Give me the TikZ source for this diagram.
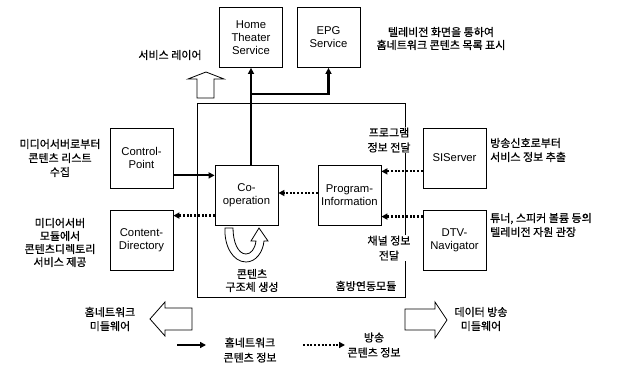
\documentclass[tikz,border=0pt]{standalone}
\usepackage{fontspec}
\setmainfont{Liberation Sans}
\newfontfamily\krfam[FakeBold=0.6]{Noto Sans CJK KR}
\usetikzlibrary{arrows.meta,calc}
\newcommand\enf{\fontsize{11.3}{13}\selectfont}
\newcommand\krf{\krfam\fontsize{11}{14}\selectfont}
\begin{document}
\begin{tikzpicture}[x=1pt,y=-1pt,
  box/.style={draw,line width=0.8pt,minimum width=63pt,minimum height=60pt,align=center,font=\enf,inner sep=1pt},
  lbl/.style={align=center,font=\krf,inner sep=1pt},
  hn/.style={line width=2.2pt,-{Triangle[length=6pt,width=6pt]}},
  bc/.style={line width=2.2pt,dash pattern=on 2pt off 1.7pt,-{Triangle[length=6pt,width=6pt]}},
  hollow/.style={draw,line width=0.8pt,fill=white,line join=miter}]
\useasboundingbox (0,0) rectangle (622,371);
% module
\node[draw,line width=0.8pt,minimum width=208pt,minimum height=194pt] (mod) at (301,200) {};
% boxes
\node[box] (HT) at (251,37.5) {Home\\Theater\\Service};
\node[box] (EPG) at (328.5,37.5) {EPG\\Service};
\node[box] (CP) at (141.5,158) {Control-\\Point};
\node[box] (CD) at (141.5,240) {Content-\\Directory};
\node[box] (CO) at (246.5,195) {Co-\\operation};
\node[box] (PI) at (349.5,195) {Program-\\Information};
\node[box] (SI) at (454.5,158) {SIServer};
\node[box] (DTV) at (454.5,240) {DTV-\\Navigator};
% connectors
\draw[hn] (HT.south |- CO.north) -- (HT.south);
\coordinate (br) at (251,94);
\draw[hn] (br) -| (EPG.south);
\draw[hn] ([yshift=13pt]CP.south east) -- ([yshift=13pt]CP.south east -| CO.west);
\draw[bc] ([yshift=-6pt]CD.north east -| CO.west) -- ([yshift=-6pt]CD.north east);
\draw[bc] ([yshift=2pt]PI.west) -- ([yshift=2pt]PI.west -| CO.east);
\draw[bc] ([yshift=17pt]SI.south west) -- ([yshift=17pt]SI.south west -| PI.east);
\draw[bc] ([yshift=-7pt]DTV.north west) -- ([yshift=-7pt]DTV.north west -| PI.east);
% hollow arrows
\path[hollow] (197,98) -- (197,79) -- (188,79) -- (206,72) -- (224,79) -- (214,79) -- (214,98) -- cycle;
\path[hollow] (192,308) -- (165,308) -- (165,302) -- (150,319) -- (165,336) -- (165,330) -- (192,330) -- cycle;
\path[hollow] (405,309) -- (435,309) -- (435,302) -- (447,320) -- (435,338) -- (435,330) -- (405,330) -- cycle;
\path[hollow] (225,228) .. controls (224,246) and (233,262) .. (246,262)
  .. controls (256,262) and (263,252) .. (264,241) -- (268,241) -- (259,228) -- (251,241) -- (256,241)
  .. controls (255,249) and (251,254) .. (246,254) .. controls (238,254) and (233,242) .. (233,228) -- cycle;
% labels
\node[lbl] (l1) at (170,55) {서비스 레이어};
\node[lbl,font=\krfam\fontsize{11}{13}\selectfont] (l2) at (441,38.5) {텔레비전 화면을 통하여\\홈네트워크 콘텐츠 목록 표시};
\node[lbl] (l3) at (60,158) {미디어서버로부터\\콘텐츠 리스트\\수집};
\node[lbl,font=\krfam\fontsize{11}{13}\selectfont] (l4) at (60,242.5) {미디어서버\\모듈에서\\콘텐츠디렉토리\\서비스 제공};
\node[lbl,fill=white,font=\krfam\fontsize{11}{15}\selectfont] (l5) at (389,140) {프로그램\\정보 전달};
\node[lbl,fill=white,font=\krfam\fontsize{11}{15}\selectfont] (l6) at (389,248) {채널 정보\\전달};
\node[lbl,anchor=west,align=left] (l7) at (489,150) {방송신호로부터\\서비스 정보 추출};
\node[lbl,anchor=west,align=left] (l8) at (489,225) {튜너, 스피커 볼륨 등의\\텔레비전 자원 관장};
\node[lbl,font=\krfam\fontsize{11}{13}\selectfont] (l9) at (252,280.5) {콘텐츠\\구조체 생성};
\node[lbl] (l10) at (366,286) {홈방연동모듈};
\node[lbl] (l11) at (110,319) {홈네트워크\\미들웨어};
\node[lbl] (l12) at (481,319) {데이터 방송\\미들웨어};
% legend
\coordinate (a1) at (177,345);
\coordinate (a2) at (206,345);
\draw[hn] (a1) -- (a2);
\node[lbl,font=\krfam\fontsize{11}{15}\selectfont] (l13) at (250,350) {홈네트워크\\콘텐츠 정보};
\coordinate (b1) at (303,345);
\coordinate (b2) at (345,345);
\draw[bc] (b1) -- (b2);
\node[lbl,font=\krfam\fontsize{11}{15}\selectfont] (l14) at (374,345) {방송\\콘텐츠 정보};
\end{tikzpicture}
\end{document}
